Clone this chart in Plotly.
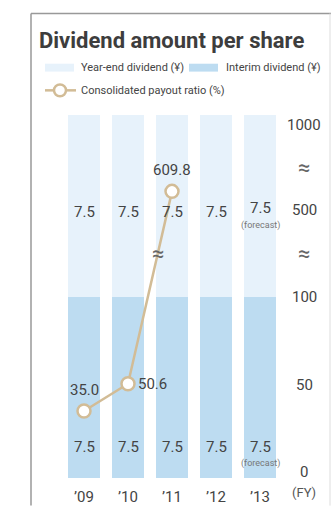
import numpy as np
import plotly.graph_objects as go

# ---- data ----
YEARS = ["’09", "’10", "’11", "’12", "’13"]
INTERIM = [7.5, 7.5, 7.5, 7.5, 7.5]
YEAR_END = [7.5, 7.5, 7.5, 7.5, 7.5]
FORECAST = [False, False, False, False, True]
PAYOUT_YEARS = ["’09", "’10", "’11"]
PAYOUT = [35.0, 50.6, 609.8]
AXIS_TICKS = [0, 50, 100, 500, 1000]
# broken scale for payout ratio: value -> axis position
SCALE_VALUES = [0, 100, 500, 1000]
SCALE_POS = [0, 100, 150, 199]
BREAK_VALUES = [300, 750]

W, H = 331, 511
L, R, T, B = 40, 5, 115, 28
PW, PH = W - L - R, H - T - B

NARROW = "Roboto, Arial"
NUM = "Roboto, Arial"
TXT = "#444444"
DARK = "#BDDCF1"
LIGHT = "#E7F2FB"
TAN = "#D2BC96"


def f(v):
    return np.interp(v, SCALE_VALUES, SCALE_POS)


def px(x):
    return (x - L) / PW


def py(y):
    return (H - B - y) / PH


xi = list(range(len(YEARS)))
pidx = [YEARS.index(y) for y in PAYOUT_YEARS]

fig = go.Figure()
fig.add_bar(x=xi, y=INTERIM, marker=dict(color=DARK, line=dict(width=0)), width=0.705, hoverinfo="skip")
fig.add_bar(x=xi, y=YEAR_END, marker=dict(color=LIGHT, line=dict(width=0)), width=0.705, hoverinfo="skip")
fig.add_scatter(x=pidx, y=f(PAYOUT), yaxis="y2", mode="lines+markers",
                line=dict(color=TAN, width=2.5),
                marker=dict(size=13, color="white", line=dict(color=TAN, width=2.5)),
                hoverinfo="skip")

ann = []
# bar value labels
for i in xi:
    top_y = INTERIM[i] + YEAR_END[i] / 2
    ann.append(dict(x=i, y=top_y, xref="x", yref="y", yanchor="middle", text=f"{YEAR_END[i]}", showarrow=False,
                    yshift=-6 + (4 if FORECAST[i] else 0), font=dict(family=NUM, size=15, color=TXT)))
    ann.append(dict(x=i, y=0, xref="x", yref="y", yanchor="middle", text=f"{INTERIM[i]}", showarrow=False,
                    yshift=31, font=dict(family=NUM, size=15, color=TXT)))
    if FORECAST[i]:
        ann.append(dict(x=i, y=top_y, xref="x", yref="y", yanchor="middle", text="(forecast)", showarrow=False,
                        yshift=-20, font=dict(family=NARROW, size=9, color="#777777")))
        ann.append(dict(x=i, y=0, xref="x", yref="y", yanchor="middle", text="(forecast)", showarrow=False,
                        yshift=15, font=dict(family=NARROW, size=9, color="#777777")))

# payout labels
for k, (i, v) in enumerate(zip(pidx, PAYOUT)):
    if k == 1:
        ann.append(dict(x=i, y=f(v), xref="x", yref="y2", yanchor="middle", text=f"{v:.1f}", showarrow=False,
                        xanchor="left", xshift=8, font=dict(family=NUM, size=15, color=TXT)))
    else:
        ann.append(dict(x=i, y=f(v), xref="x", yref="y2", yanchor="middle", text=f"{v:.1f}", showarrow=False,
                        yshift=21, font=dict(family=NUM, size=15, color=TXT)))

# right axis labels
for t in AXIS_TICKS:
    ann.append(dict(x=5.0, y=f(t), xref="x", yref="y2", yanchor="middle", text=str(t), showarrow=False,
                    font=dict(family=NUM, size=15, color=TXT)))
for b in BREAK_VALUES:
    ann.append(dict(x=5.0, y=f(b), xref="x", yref="y2", yanchor="middle", text="≈", showarrow=False,
                    font=dict(family=NUM, size=22, color="#666666")))
# break mark on the line
y1, y2 = f(PAYOUT[1]), f(PAYOUT[2])
yb = f(BREAK_VALUES[0])
xb = pidx[1] + (yb - y1) / (y2 - y1) * (pidx[2] - pidx[1])
ann.append(dict(x=xb, y=yb, xref="x", yref="y2", yanchor="middle", text="≈", showarrow=False,
                font=dict(family=NUM, size=22, color="#666666")))
ann.append(dict(x=5.0, y=py(498), xref="x", yref="paper", yanchor="middle", text="(FY)", showarrow=False,
                font=dict(family=NARROW, size=13, color="#555555")))

# title
ann.append(dict(x=px(37), y=py(39), xref="paper", yref="paper", xanchor="left", yanchor="middle",
                text="<b>Dividend amount per share</b>", showarrow=False,
                font=dict(family=NARROW, size=22, color="#3d3d3d")))
# legend texts
ann.append(dict(x=px(79), y=py(67), xref="paper", yref="paper", xanchor="left", yanchor="middle",
                text="Year-end dividend (¥)",
                showarrow=False, font=dict(family=NARROW, size=11, color=TXT)))
ann.append(dict(x=px(224), y=py(67), xref="paper", yref="paper", xanchor="left", yanchor="middle",
                text="Interim dividend (¥)",
                showarrow=False, font=dict(family=NARROW, size=11, color=TXT)))
ann.append(dict(x=px(79), y=py(90), xref="paper", yref="paper", xanchor="left", yanchor="middle",
                text="Consolidated payout ratio (%)",
                showarrow=False, font=dict(family=NARROW, size=11, color=TXT)))

shapes = [
    # frame
    dict(type="line", xref="paper", yref="paper", x0=px(31), x1=px(31), y0=py(12), y1=py(511),
         line=dict(color="#999999", width=1.5)),
    dict(type="line", xref="paper", yref="paper", x0=px(31), x1=px(331), y0=py(12), y1=py(12),
         line=dict(color="#999999", width=1.5)),
    dict(type="line", xref="paper", yref="paper", x0=px(330), x1=px(330), y0=py(12), y1=py(511),
         line=dict(color="#dddddd", width=1)),
    # legend swatches
    dict(type="rect", xref="paper", yref="paper", x0=px(45), x1=px(74), y0=py(63), y1=py(71),
         fillcolor=LIGHT, line=dict(width=0)),
    dict(type="rect", xref="paper", yref="paper", x0=px(189), x1=px(218), y0=py(63), y1=py(71),
         fillcolor=DARK, line=dict(width=0)),
    dict(type="line", xref="paper", yref="paper", x0=px(45), x1=px(76), y0=py(90), y1=py(90),
         line=dict(color=TAN, width=2.5)),
    dict(type="circle", xref="paper", yref="paper", x0=px(54), x1=px(66), y0=py(84), y1=py(96),
         fillcolor="white", line=dict(color=TAN, width=2.5)),
]

fig.update_layout(
    width=W, height=H, margin=dict(l=L, r=R, t=T, b=B),
    paper_bgcolor="white", plot_bgcolor="white",
    barmode="stack", showlegend=False, bargap=0,
    annotations=ann, shapes=shapes,
    xaxis=dict(range=[-1, 5.5], tickvals=xi, ticktext=YEARS, showgrid=False, zeroline=False,
               showline=False, ticks="", ticklabelstandoff=8,
               tickfont=dict(family=NUM, size=15, color=TXT), fixedrange=True),
    yaxis=dict(range=[0, 15], visible=False, fixedrange=True),
    yaxis2=dict(range=[-3.4, 204.5], overlaying="y", visible=False, fixedrange=True),
)

fig.write_html("out.html")
